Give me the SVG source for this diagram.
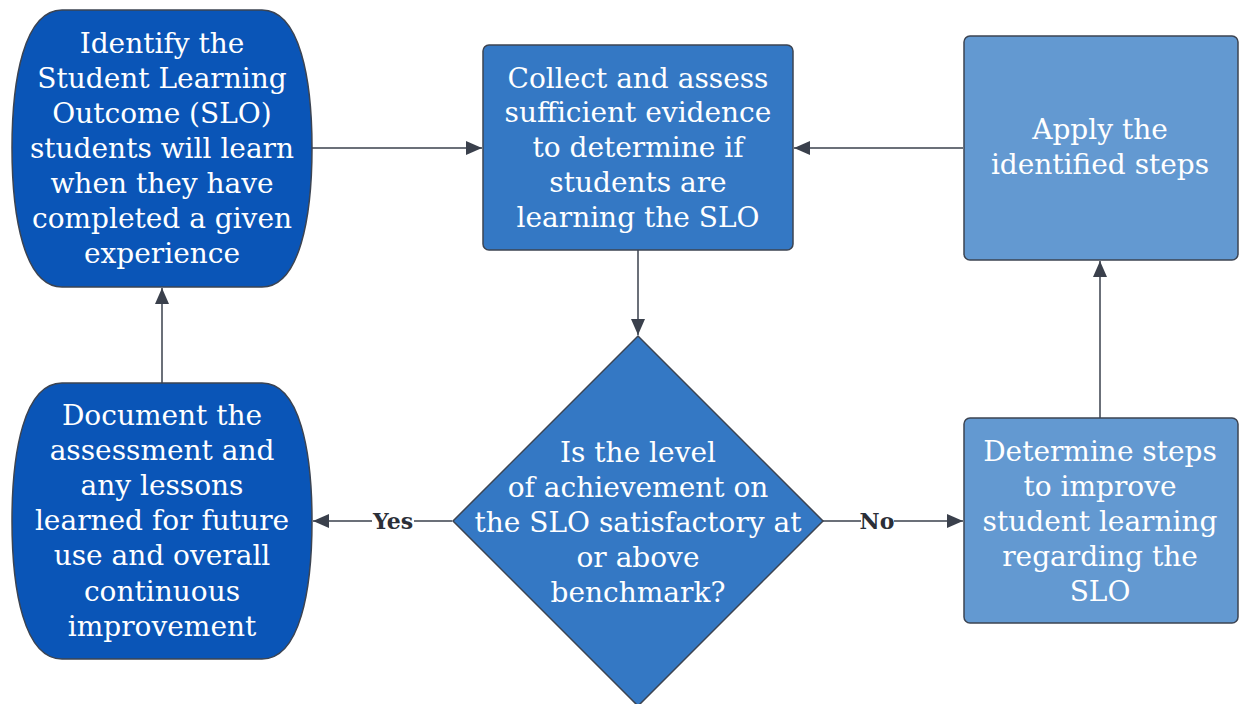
<svg xmlns="http://www.w3.org/2000/svg" width="1241" height="704" viewBox="0 0 1241 704">
<style>
.t{font-family:"DejaVu Serif","Liberation Serif",serif;font-size:28px;fill:#ffffff;text-anchor:middle}
.lbl{font-family:"DejaVu Serif","Liberation Serif",serif;font-size:22px;font-weight:bold;fill:#2b2f38;text-anchor:middle}
.c{stroke:#6b7079;stroke-width:2;fill:none}
.s{stroke:#3c4452;stroke-width:1.5}
</style>
<defs>
<marker id="ah" viewBox="0 0 16 14" refX="16" refY="7" markerWidth="16" markerHeight="14" markerUnits="userSpaceOnUse" orient="auto">
<path d="M0,0 L16,7 L0,14 Z" fill="#3a404c"/>
</marker>
</defs>
<rect width="1241" height="704" fill="#ffffff"/>
<g id="connectors">
<line class="c" x1="312" y1="148" x2="482" y2="148" marker-end="url(#ah)"/>
<line class="c" x1="963" y1="148" x2="794" y2="148" marker-end="url(#ah)"/>
<line class="c" x1="638" y1="250" x2="638" y2="335" marker-end="url(#ah)"/>
<line class="c" x1="452" y1="521" x2="414" y2="521"/>
<line class="c" x1="372" y1="521" x2="313" y2="521" marker-end="url(#ah)"/>
<line class="c" x1="823" y1="521" x2="861" y2="521"/>
<line class="c" x1="894" y1="521" x2="963" y2="521" marker-end="url(#ah)"/>
<line class="c" x1="1100" y1="418" x2="1100" y2="261" marker-end="url(#ah)"/>
<line class="c" x1="162" y1="383" x2="162" y2="288" marker-end="url(#ah)"/>
<text class="lbl" x="393" y="529">Yes</text>
<text class="lbl" x="877" y="529">No</text>
</g>
<g id="node-identify">
<path class="s" fill="#0a55b7" d="M62,10 H262 C300,10 312,80 312,148 C312,216 300,287 262,287 H62 C24,287 12,216 12,148 C12,80 24,10 62,10 Z"/>
<text class="t" x="162" y="53">Identify the</text>
<text class="t" x="162" y="88">Student Learning</text>
<text class="t" x="162" y="123">Outcome (SLO)</text>
<text class="t" x="162" y="158">students will learn</text>
<text class="t" x="162" y="193">when they have</text>
<text class="t" x="162" y="228">completed a given</text>
<text class="t" x="162" y="263">experience</text>
</g>
<g id="node-collect">
<rect class="s" x="483" y="45" width="310" height="205" rx="6" fill="#3478c4"/>
<text class="t" x="638" y="88">Collect and assess</text>
<text class="t" x="638" y="122">sufficient evidence</text>
<text class="t" x="638" y="157">to determine if</text>
<text class="t" x="638" y="192">students are</text>
<text class="t" x="638" y="227">learning the SLO</text>
</g>
<g id="node-apply">
<rect class="s" x="964" y="36" width="274" height="224" rx="6" fill="#6399d1"/>
<text class="t" x="1100" y="139">Apply the</text>
<text class="t" x="1100" y="174">identified steps</text>
</g>
<g id="node-document">
<path class="s" fill="#0a55b7" d="M62,383 H262 C300,383 312,452 312,521 C312,590 300,659 262,659 H62 C24,659 12,590 12,521 C12,452 24,383 62,383 Z"/>
<text class="t" x="162" y="425">Document the</text>
<text class="t" x="162" y="460">assessment and</text>
<text class="t" x="162" y="495">any lessons</text>
<text class="t" x="162" y="530">learned for future</text>
<text class="t" x="162" y="565">use and overall</text>
<text class="t" x="162" y="601">continuous</text>
<text class="t" x="162" y="636">improvement</text>
</g>
<g id="node-decision">
<path class="s" fill="#3478c4" d="M638,336 L823,521 L638,706 L453,521 Z"/>
<text class="t" x="638" y="462">Is the level</text>
<text class="t" x="638" y="497">of achievement on</text>
<text class="t" x="638" y="532">the SLO satisfactory at</text>
<text class="t" x="638" y="567">or above</text>
<text class="t" x="638" y="602">benchmark?</text>
</g>
<g id="node-determine">
<rect class="s" x="964" y="418" width="274" height="205" rx="6" fill="#6399d1"/>
<text class="t" x="1100" y="461">Determine steps</text>
<text class="t" x="1100" y="496">to improve</text>
<text class="t" x="1100" y="531">student learning</text>
<text class="t" x="1100" y="566">regarding the</text>
<text class="t" x="1100" y="601">SLO</text>
</g>
</svg>
